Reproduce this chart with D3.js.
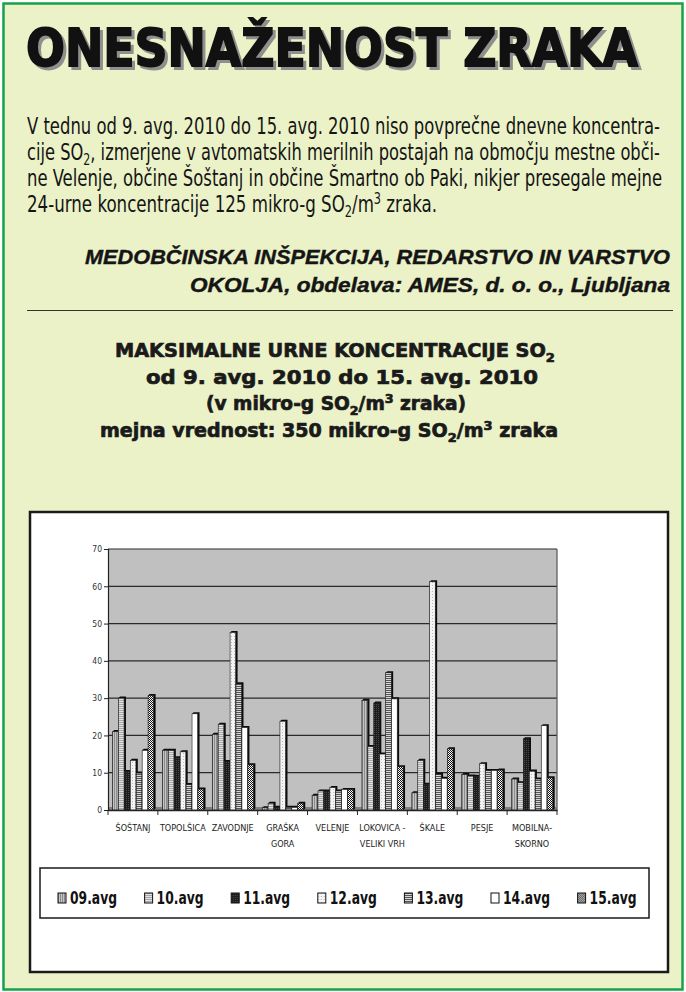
<!DOCTYPE html>
<html>
<head>
<meta charset="utf-8">
<script src="https://cdn.jsdelivr.net/npm/d3@7"></script>
<style>
body{margin:0;background:#fff;}
svg{display:block;}
</style>
</head>
<body>
<div id="chart"></div>
<script>
////////////////////////////////////////////////////
// data (mikro-g SO2/m3)
////////////////////////////////////////////////////
var postaje = ["ŠOŠTANJ","TOPOLŠICA","ZAVODNJE","GRAŠKA|GORA","VELENJE","LOKOVICA -|VELIKI VRH","ŠKALE","PESJE","MOBILNA-|SKORNO"];
var dnevi = ["09.avg","10.avg","11.avg","12.avg","13.avg","14.avg","15.avg"];
var avg09 = [21.0, 16.0, 20.3, 0.6, 3.9, 29.4, 4.6, 9.5, 8.3];
var avg10 = [30.0, 16.0, 23.0, 1.8, 5.1, 17.0, 13.3, 9.1, 7.3];
var avg11 = [10.3, 14.0, 13.0, 0.7, 5.1, 28.7, 6.9, 9.0, 19.1];
var avg12 = [13.3, 15.6, 47.6, 23.8, 6.0, 15.0, 61.2, 12.4, 10.4];
var avg13 = [9.9, 6.8, 33.8, 0.7, 5.1, 36.8, 9.6, 10.6, 8.3];
var avg14 = [16.0, 25.8, 22.1, 0.7, 5.5, 29.8, 8.5, 10.6, 22.6];
var avg15 = [30.7, 5.6, 12.1, 1.8, 5.5, 11.6, 16.4, 10.7, 8.6];
var yTicks = [0,10,20,30,40,50,60,70];
var serije = [avg09, avg10, avg11, avg12, avg13, avg14, avg15];

var W = 686, H = 992;
var narrow = "'Liberation Sans Narrow','DejaVu Sans Condensed',Arial,sans-serif";
var heavy = "'DejaVu Sans',Verdana,sans-serif";

var svg = d3.select("#chart").append("svg")
	.attr("width", W)
	.attr("height", H);

// patterns for the series
var defs = svg.append("defs");
function pat(id, w, h, bg, draw) {
	var p = defs.append("pattern").attr("id", id)
		.attr("patternUnits", "userSpaceOnUse")
		.attr("width", w).attr("height", h);
	p.append("rect").attr("width", w).attr("height", h).attr("fill", bg);
	draw(p);
}
pat("p0", 2, 2, "#c4c4c4", function(p){ p.append("rect").attr("width",1).attr("height",2).attr("fill","#8c8c8c"); });
pat("p1", 2, 2, "#e2e2e2", function(p){ p.append("rect").attr("width",2).attr("height",1).attr("fill","#a8a8a8"); });
pat("p2", 2, 2, "#1c1c1c", function(p){ p.append("rect").attr("width",1).attr("height",1).attr("fill","#4a4a4a"); });
pat("p3", 3, 3, "#f4f4f4", function(p){ p.append("rect").attr("width",1).attr("height",1).attr("fill","#b8b8b8"); });
pat("p4", 2, 2, "#d6d6d6", function(p){ p.append("rect").attr("width",2).attr("height",1).attr("fill","#555"); });
pat("p5", 2, 2, "#ffffff", function(p){});
pat("p6", 2, 2, "#ffffff", function(p){
	p.append("rect").attr("width",1).attr("height",1).attr("fill","#111");
	p.append("rect").attr("x",1).attr("y",1).attr("width",1).attr("height",1).attr("fill","#111");
});

////////////////////////////////////////////////////
// page frame and texts
////////////////////////////////////////////////////
svg.append("rect")
	.attr("x", 3.5).attr("y", 3.5)
	.attr("width", W - 7).attr("height", H - 6)
	.attr("fill", "#ebf2c8")
	.attr("stroke", "#16a24a")
	.attr("stroke-width", 2.5);

var naslov = "ONESNAŽENOST ZRAKA";
svg.append("text")
	.attr("x", 29).attr("y", 69)
	.attr("font-family", heavy).attr("font-weight", "bold")
	.attr("font-size", 52)
	.attr("textLength", 612).attr("lengthAdjust", "spacingAndGlyphs")
	.attr("fill", "#8f8f8f").attr("stroke", "#8f8f8f").attr("stroke-width", 1.8)
	.text(naslov);
svg.append("text")
	.attr("x", 26).attr("y", 66)
	.attr("font-family", heavy).attr("font-weight", "bold")
	.attr("font-size", 52)
	.attr("textLength", 612).attr("lengthAdjust", "spacingAndGlyphs")
	.attr("fill", "#111").attr("stroke", "#111").attr("stroke-width", 1.8)
	.text(naslov);

// text with sub / sup parts: array of [string, shift]
function richText(parent, parts, attrs) {
	var t = parent.append("text");
	for (var k in attrs) t.attr(k, attrs[k]);
	var cur = 0;
	parts.forEach(function(p) {
		var s = p[1] || 0;
		var ts = t.append("tspan").attr("dy", s - cur).text(p[0]);
		if (s !== 0) ts.attr("font-size", attrs["font-size"] * 0.68);
		cur = s;
	});
	return t;
}

var bodyAttr = {"font-family": narrow, "font-size": 23, "fill": "#151515", "lengthAdjust": "spacingAndGlyphs"};
richText(svg, [["V tednu od 9. avg. 2010 do 15. avg. 2010 niso povprečne dnevne koncentra-"]],
	Object.assign({x: 27, y: 134, textLength: 633}, bodyAttr));
richText(svg, [["cije SO"], ["2", 5], [", izmerjene v avtomatskih merilnih postajah na območju mestne obči-", 0]],
	Object.assign({x: 27, y: 160, textLength: 633}, bodyAttr));
richText(svg, [["ne Velenje, občine Šoštanj in občine Šmartno ob Paki, nikjer presegale mejne"]],
	Object.assign({x: 27, y: 186, textLength: 635}, bodyAttr));
richText(svg, [["24-urne koncentracije 125 mikro-g SO"], ["2", 5], ["/m", 0], ["3", -8], [" zraka.", 0]],
	Object.assign({x: 27, y: 212, textLength: 410}, bodyAttr));

var srcAttr = {"font-family": "'Liberation Sans',Arial,sans-serif", "font-size": 20, "font-weight": "bold",
	"font-style": "italic", "fill": "#151515", "text-anchor": "end", "lengthAdjust": "spacingAndGlyphs",
	"stroke": "#151515", "stroke-width": 0.4};
richText(svg, [["MEDOBČINSKA INŠPEKCIJA, REDARSTVO IN VARSTVO"]], Object.assign({x: 670, y: 264, textLength: 585}, srcAttr));
richText(svg, [["OKOLJA, obdelava: AMES, d. o. o., Ljubljana"]], Object.assign({x: 670, y: 292, textLength: 480}, srcAttr));

svg.append("line")
	.attr("x1", 27).attr("x2", 673)
	.attr("y1", 310.5).attr("y2", 310.5)
	.attr("stroke", "#333").attr("stroke-width", 1);

var headAttr = {"font-family": heavy, "font-weight": "bold", "font-size": 19, "fill": "#1a1a1a",
	"stroke": "#1a1a1a", "stroke-width": 0.7,
	"text-anchor": "middle", "lengthAdjust": "spacingAndGlyphs"};
richText(svg, [["MAKSIMALNE URNE KONCENTRACIJE SO"], ["2", 5]], Object.assign({x: 335, y: 357, textLength: 440}, headAttr));
richText(svg, [["od 9. avg. 2010 do 15. avg. 2010"]], Object.assign({x: 342, y: 384, textLength: 392}, headAttr));
richText(svg, [["(v mikro-g SO"], ["2", 5], ["/m", 0], ["3", -7], [" zraka)", 0]], Object.assign({x: 336, y: 410, textLength: 260}, headAttr));
richText(svg, [["mejna vrednost: 350 mikro-g SO"], ["2", 5], ["/m", 0], ["3", -7], [" zraka", 0]], Object.assign({x: 329, y: 437, textLength: 458}, headAttr));

////////////////////////////////////////////////////
// chart box
////////////////////////////////////////////////////
svg.append("rect")
	.attr("x", 30).attr("y", 512)
	.attr("width", 638).attr("height", 460)
	.attr("fill", "#fff")
	.attr("stroke", "#1a1a1a").attr("stroke-width", 2.5);

var x0 = d3.scaleBand().domain(postaje).range([108, 557]).padding(0);
var x1 = d3.scaleBand().domain(dnevi).range([4.5, 46]).padding(0);
var y = d3.scaleLinear().domain([0, 70]).range([810, 549]);

var plot = svg.append("g");
plot.append("rect")
	.attr("x", x0.range()[0]).attr("y", y(70))
	.attr("width", x0.range()[1] - x0.range()[0]).attr("height", y(0) - y(70))
	.attr("fill", "#c0c0c0");

plot.selectAll(".grid")
	.data(yTicks.filter(function(d){ return d > 0; }))
	.enter().append("line")
		.attr("x1", x0.range()[0]).attr("x2", x0.range()[1])
		.attr("y1", function(d){ return y(d); }).attr("y2", function(d){ return y(d); })
		.attr("stroke", "#2a2a2a").attr("stroke-width", 1.2);

plot.append("line")
	.attr("x1", x0.range()[1]).attr("x2", x0.range()[1])
	.attr("y1", y(70)).attr("y2", y(0))
	.attr("stroke", "#555").attr("stroke-width", 1.2);

// floor
plot.append("rect")
	.attr("x", x0.range()[0]).attr("y", y(0) - 3)
	.attr("width", x0.range()[1] - x0.range()[0]).attr("height", 3)
	.attr("fill", "#808080");

// bars with a small 3D cap
var dep = 1.6;
var barData = [];
postaje.forEach(function(p, i) {
	dnevi.forEach(function(d, j) {
		barData.push({p: p, d: d, j: j, v: serije[j][i]});
	});
});
var bars = plot.selectAll(".bar").data(barData).enter().append("g");
bars.append("polygon")
	.attr("points", function(d) {
		var bx = x0(d.p) + x1(d.d), bw = x1.bandwidth(), ty = y(d.v), by = y(0);
		return [[bx, ty], [bx + dep, ty - dep], [bx + bw + dep, ty - dep], [bx + bw + dep, by - dep], [bx + bw, by], [bx, by]].join(" ");
	})
	.attr("fill", "#0d0d0d");
bars.append("rect")
	.attr("x", function(d){ return x0(d.p) + x1(d.d); })
	.attr("y", function(d){ return y(d.v); })
	.attr("width", x1.bandwidth() - 0.3)
	.attr("height", function(d){ return y(0) - y(d.v); })
	.attr("fill", function(d){ return "url(#p" + d.j + ")"; })
	.attr("stroke", "#222").attr("stroke-width", 0.6);

// axes
var yAxis = d3.axisLeft(y).tickValues(yTicks).tickSize(4).tickPadding(2);
var gy = svg.append("g").attr("transform", "translate(" + x0.range()[0] + ",0)").call(yAxis);
gy.select(".domain").attr("stroke", "#222").attr("stroke-width", 1.2);
gy.selectAll("line").attr("stroke", "#222");
gy.selectAll("text")
	.attr("font-family", narrow).attr("font-size", 8.5).attr("fill", "#333");

var xAxis = d3.axisBottom(x0).tickSize(0).tickFormat("");
var gx = svg.append("g").attr("transform", "translate(0," + y(0) + ")").call(xAxis);
gx.select(".domain").attr("stroke", "#222").attr("stroke-width", 1.5);
gx.selectAll(".sep")
	.data(postaje.concat(["end"]))
	.enter().append("line")
		.attr("x1", function(d, i){ return x0.range()[0] + i * x0.step(); })
		.attr("x2", function(d, i){ return x0.range()[0] + i * x0.step(); })
		.attr("y1", 0).attr("y2", 5)
		.attr("stroke", "#222");

var lbl = svg.append("g").selectAll(".lbl")
	.data(postaje)
	.enter().append("text")
		.attr("text-anchor", "middle")
		.attr("font-family", narrow).attr("font-size", 9).attr("fill", "#222");
lbl.each(function(d) {
	var t = d3.select(this), parts = d.split("|"), cx = x0(d) + x0.bandwidth() / 2;
	parts.forEach(function(s, k) {
		t.append("tspan").attr("x", cx).attr("y", 831 + k * 16).text(s);
	});
});

// legend
svg.append("rect")
	.attr("x", 40).attr("y", 868)
	.attr("width", 609).attr("height", 50)
	.attr("fill", "#fff")
	.attr("stroke", "#1a1a1a").attr("stroke-width", 1.5);
var leg = svg.selectAll(".leg")
	.data(dnevi)
	.enter().append("g")
		.attr("transform", function(d, i){ return "translate(" + (58 + i * 86.6) + ",893)"; });
leg.append("rect")
	.attr("width", 8).attr("height", 10)
	.attr("fill", function(d, i){ return "url(#p" + i + ")"; })
	.attr("stroke", "#111").attr("stroke-width", 1);
leg.append("text")
	.attr("x", 12).attr("y", 11)
	.attr("font-family", narrow).attr("font-weight", "bold").attr("font-size", 17)
	.attr("textLength", 47).attr("lengthAdjust", "spacingAndGlyphs")
	.attr("fill", "#111")
	.text(function(d){ return d; });
</script>
</body>
</html>
